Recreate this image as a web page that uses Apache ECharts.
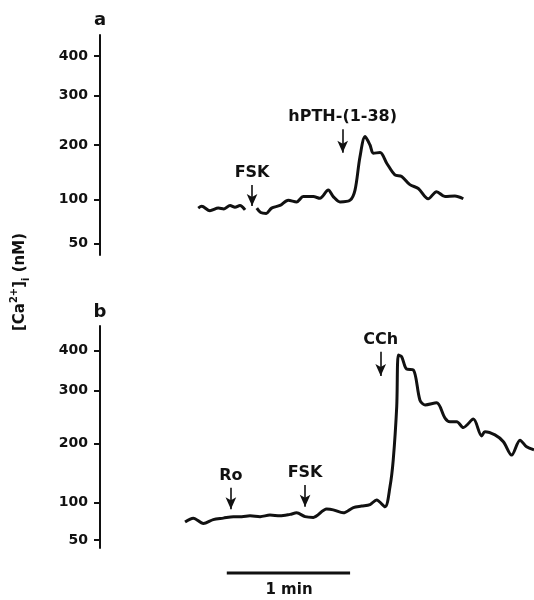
<!DOCTYPE html>
<html>
<head>
<meta charset="utf-8">
<script src="https://cdn.jsdelivr.net/npm/echarts@6/dist/echarts.min.js"></script>
<style>
  html, body { margin: 0; padding: 0; background: #fff; }
  #chart { width: 534px; height: 600px; }
</style>
</head>
<body>
<div id="chart"></div>
<script>
// tick labels of the [Ca2+]i scale (nM) and where they sit on each panel's axis
const yTicks = [50, 100, 200, 300, 400];
const tickPosA = [0, 44, 98.3, 147.6, 187.3];
const tickPosB = [0, 37.7, 96.7, 149.3, 189.3];

// panel a: time (s) and [Ca2+]i (nM); null = break in the trace at FSK
const timesA = [47.8, 49.5, 53.5, 57.6, 60.3, 63.3, 65.7, 68.1, 70.6, 73.0,
  76.3, 78.2, 80.9, 83.5, 87.6, 91.6, 95.7, 98.9, 103.8, 107.0,
  111.1, 113.5, 116.8, 121.7, 124.1, 126.5, 129.0, 131.4, 133.0, 136.3,
  139.6, 143.5, 146.8, 150.8, 154.9, 159.7, 163.8, 167.9, 172.7, 176.8];
const caA = [90, 92, 87, 90, 89, 93, 91, 93, 88, null,
  90, 85, 84, 90, 93, 99, 97, 105, 105, 102,
  117, 105, 97, 99, 117, 178, 217, 200, 185, 186,
  166, 145, 142, 127, 120, 101, 114, 105, 106, 101];

// panel b
const timesB = [41.4, 45.4, 50.3, 55.1, 60.0, 64.9, 69.0, 73.0, 77.9, 82.7,
  87.6, 92.5, 95.7, 99.8, 103.8, 110.3, 113.5, 118.4, 123.3, 127.3,
  131.4, 134.6, 138.7, 141.1, 142.7, 144.4, 145.2, 146.8, 149.2, 152.5,
  155.7, 158.2, 163.8, 167.9, 170.3, 173.6, 176.8, 181.7, 185.7, 187.3,
  192.2, 196.3, 200.3, 204.4, 207.6, 211.2];
const caB = [74, 79, 72, 77, 79, 81, 81, 82, 81, 83,
  82, 84, 86, 81, 80, 91, 90, 86, 93, 95,
  97, 104, 94, 126, 172, 270, 389, 385, 354, 352,
  282, 273, 277, 248, 241, 241, 230, 246, 214, 222,
  216, 203, 180, 206, 194, 189];

// drug additions
const eventNamesA = ['FSK', 'hPTH-(1-38)'];
const eventTimesA = [74.0, 118.1];
const eventNamesB = ['Ro', 'FSK', 'CCh'];
const eventTimesB = [63.7, 99.8, 136.6];

// time scale bar (s)
const scaleBar = [61.7, 121.7];

const tMax = 211.2;
const ink = '#111';
const font = 'DejaVu Sans';

// calibration: nM -> axis position (piecewise between labelled ticks)
function toAxis(v, pos) {
    if (v == null) return null;
    let i = 0;
    while (i < yTicks.length - 2 && v > yTicks[i + 1]) i++;
    const f = (v - yTicks[i]) / (yTicks[i + 1] - yTicks[i]);
    return pos[i] + f * (pos[i + 1] - pos[i]);
}

function trace(times, vals, pos) {
    return times.map((t, i) => [t, toAxis(vals[i], pos)]);
}

function yAxisFor(idx, pos, min, max) {
    return {
        gridIndex: idx, type: 'value', min: min, max: max,
        splitLine: { show: false },
        axisLine: { show: true, lineStyle: { color: ink, width: 2 } },
        axisTick: { show: true, length: 6, lineStyle: { color: ink, width: 2 }, customValues: pos },
        axisLabel: {
            show: true, customValues: pos, margin: 12,
            color: ink, fontFamily: font, fontWeight: 'bold', fontSize: 14,
            formatter: v => {
                const k = pos.findIndex(p => Math.abs(p - v) < 0.01);
                return k >= 0 ? String(yTicks[k]) : '';
            }
        }
    };
}

// arrows: [top, tip] in axis units for each event
function arrows(names, times, ends) {
    return names.map((n, i) => [
        { coord: [times[i], ends[i][0]], name: n },
        { coord: [times[i], ends[i][1]] }
    ]);
}

const markStyle = {
    silent: true,
    symbol: ['none', 'arrow'],
    symbolSize: [8, 12],
    lineStyle: { color: ink, width: 1.6, type: 'solid' },
    label: {
        show: true, position: 'start', distance: 4,
        formatter: p => p.name,
        color: ink, fontFamily: font, fontWeight: 'bold', fontSize: 16
    },
    emphasis: { disabled: true }
};

const chart = echarts.init(document.getElementById('chart'));

chart.setOption({
    animation: false,
    backgroundColor: '#fff',
    grid: [
        { left: 100, right: 0, top: 35, height: 220 },
        { left: 100, right: 0, top: 326, height: 222 },
        { left: 100, right: 0, top: 563, height: 20 }
    ],
    xAxis: [0, 1, 2].map(i => ({
        gridIndex: i, type: 'value', min: 0, max: tMax, show: false
    })),
    yAxis: [
        yAxisFor(0, tickPosA, -11.7, 208.3),
        yAxisFor(1, tickPosB, -8, 214),
        { gridIndex: 2, type: 'value', min: -1, max: 1, show: false }
    ],
    series: [
        {
            type: 'line', xAxisIndex: 0, yAxisIndex: 0,
            data: trace(timesA, caA, tickPosA),
            showSymbol: false, smooth: 0.3, connectNulls: false,
            lineStyle: { color: ink, width: 3 },
            markLine: Object.assign({}, markStyle, {
                data: arrows(eventNamesA, eventTimesA, [[58.3, 37.3], [114, 90.6]])
            })
        },
        {
            type: 'line', xAxisIndex: 1, yAxisIndex: 1,
            data: trace(timesB, caB, tickPosB),
            showSymbol: false, smooth: 0.3,
            lineStyle: { color: ink, width: 3 },
            markLine: Object.assign({}, markStyle, {
                data: arrows(eventNamesB, eventTimesB, [[52.3, 30.7], [55, 33.3], [188.3, 164]])
            })
        },
        {
            type: 'line', xAxisIndex: 2, yAxisIndex: 2,
            data: scaleBar.map(t => [t, 0]),
            showSymbol: false,
            lineStyle: { color: ink, width: 3 }
        }
    ],
    graphic: [
        {
            type: 'text', x: 100, y: 20,
            style: { text: 'a', fill: ink, font: 'bold 18px "DejaVu Sans"', align: 'center', verticalAlign: 'middle' }
        },
        {
            type: 'text', x: 100, y: 312,
            style: { text: 'b', fill: ink, font: 'bold 18px "DejaVu Sans"', align: 'center', verticalAlign: 'middle' }
        },
        {
            type: 'text', x: 289, y: 590,
            style: { text: '1 min', fill: ink, font: 'bold 15px "DejaVu Sans"', align: 'center', verticalAlign: 'middle' }
        },
        {
            type: 'text', x: 20, y: 282, rotation: Math.PI / 2,
            style: {
                text: '{n|[Ca}{sup|2+}{n|]}{sub|i}{n| (nM)}',
                align: 'center', verticalAlign: 'middle',
                rich: {
                    n: { fill: ink, fontFamily: font, fontWeight: 'bold', fontSize: 15, lineHeight: 22 },
                    sup: { fill: ink, fontFamily: font, fontWeight: 'bold', fontSize: 10, lineHeight: 22, verticalAlign: 'top' },
                    sub: { fill: ink, fontFamily: font, fontWeight: 'bold', fontSize: 10, lineHeight: 22, verticalAlign: 'bottom' }
                }
            }
        }
    ]
});
</script>
</body>
</html>
